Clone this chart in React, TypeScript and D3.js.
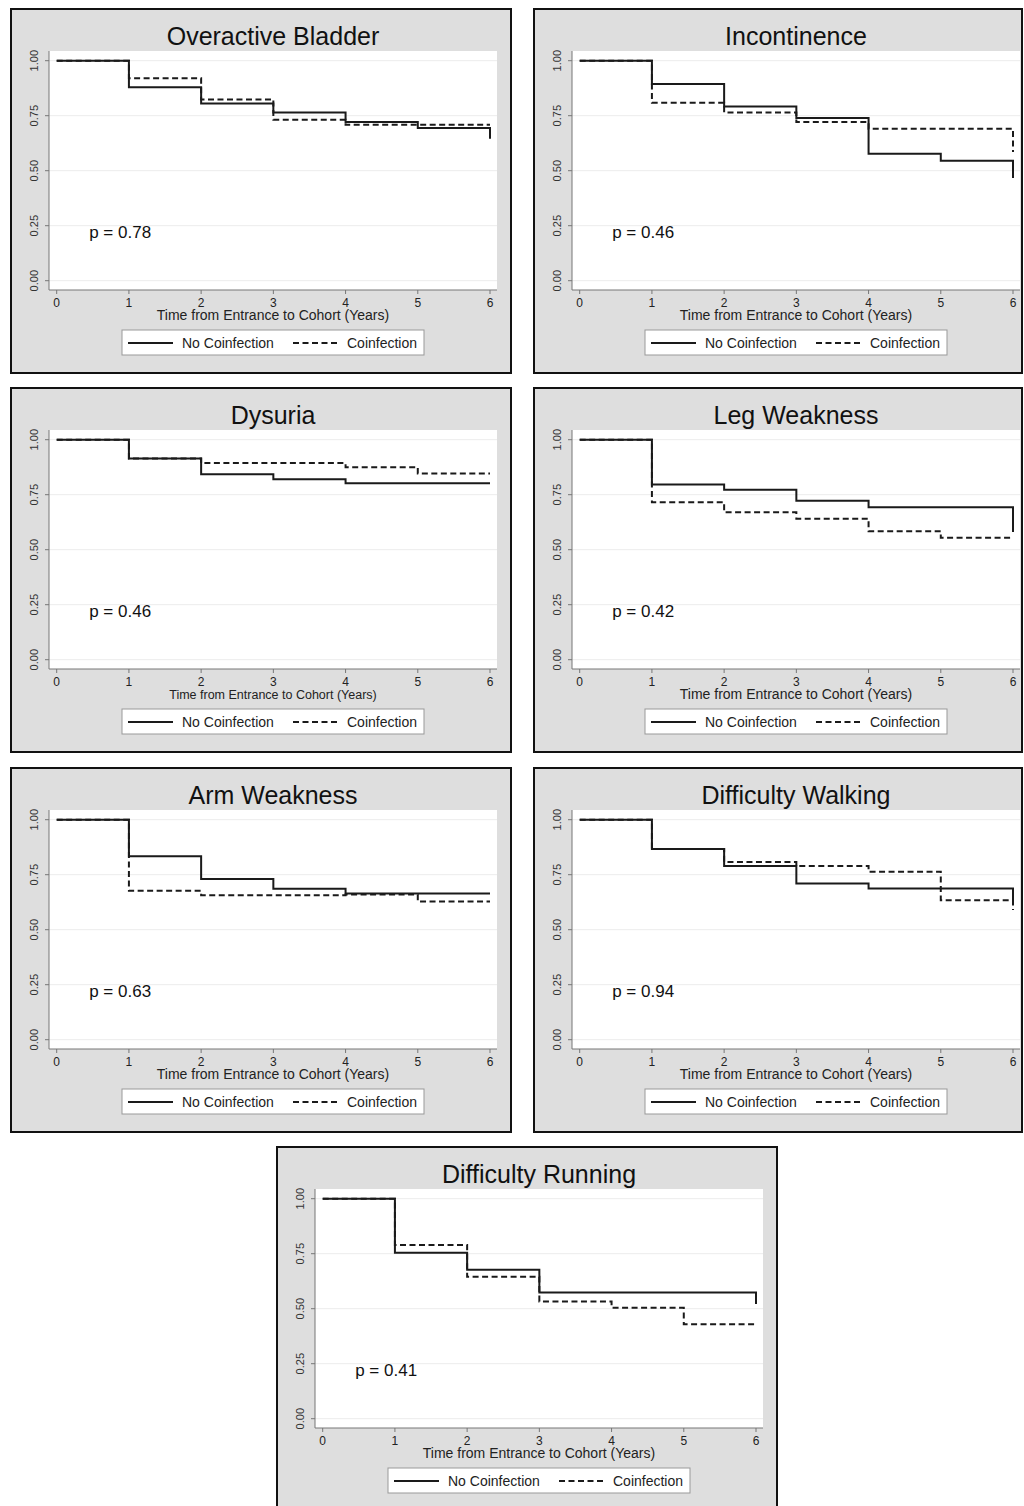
import * as d3 from "d3";

// survival estimates at years 0..6 (last value = drop at end of follow-up)
const years = [0, 1, 2, 3, 4, 5, 6];
const yTicks = [0, 0.25, 0.5, 0.75, 1];
const yTickLabels = ["0.00", "0.25", "0.50", "0.75", "1.00"];

const titles = [
  "Overactive Bladder",
  "Incontinence",
  "Dysuria",
  "Leg Weakness",
  "Arm Weakness",
  "Difficulty Walking",
  "Difficulty Running",
];
const pValues = ["0.78", "0.46", "0.46", "0.42", "0.63", "0.94", "0.41"];

const bladderNo = [1.0, 0.879, 0.806, 0.765, 0.721, 0.694, 0.645];
const bladderCo = [1.0, 0.92, 0.824, 0.732, 0.709, 0.709, 0.709];
const incontNo = [1.0, 0.894, 0.792, 0.739, 0.577, 0.545, 0.467];
const incontCo = [1.0, 0.809, 0.765, 0.721, 0.691, 0.691, 0.585];
const dysuriaNo = [1.0, 0.915, 0.843, 0.82, 0.802, 0.802, 0.802];
const dysuriaCo = [1.0, 0.915, 0.894, 0.894, 0.875, 0.846, 0.846];
const legNo = [1.0, 0.796, 0.772, 0.723, 0.693, 0.693, 0.581];
const legCo = [1.0, 0.716, 0.67, 0.641, 0.584, 0.554, 0.554];
const armNo = [1.0, 0.834, 0.73, 0.686, 0.665, 0.665, 0.665];
const armCo = [1.0, 0.677, 0.657, 0.657, 0.66, 0.628, 0.628];
const walkNo = [1.0, 0.867, 0.79, 0.71, 0.687, 0.687, 0.62];
const walkCo = [1.0, 0.867, 0.808, 0.789, 0.763, 0.634, 0.589];
const runNo = [1.0, 0.754, 0.677, 0.574, 0.574, 0.574, 0.521];
const runCo = [1.0, 0.79, 0.645, 0.533, 0.504, 0.429, 0.429];

const noCoinfection = [bladderNo, incontNo, dysuriaNo, legNo, armNo, walkNo, runNo];
const coinfection = [bladderCo, incontCo, dysuriaCo, legCo, armCo, walkCo, runCo];

const panelX = [10, 533, 10, 533, 10, 533, 276];
const panelY = [8, 8, 387, 387, 767, 767, 1146];
const panelW = [502, 490, 502, 490, 502, 490, 502];
const axisTitleSize = [14, 14, 12.5, 14, 14, 14, 14];

const font = "'Liberation Sans', Arial, Helvetica, sans-serif";
const ink = "#1a1a1a";

const x = d3.scaleLinear().domain([0, 6]).range([46.7, 480]);
const y = d3.scaleLinear().domain([0, 1]).range([272.7, 52.7]);

const stepLine = d3
  .line<number>()
  .x((d, i) => x(years[i]))
  .y(d => y(d))
  .curve(d3.curveStepAfter);

function Panel({ i }: { i: number }) {
  const w = panelW[i];
  return (
    <g transform={`translate(${panelX[i]},${panelY[i]})`}>
      <rect x={1} y={1} width={w - 2} height={364} fill="#dedede" stroke="#111" strokeWidth={2} />
      <text x={263} y={37} textAnchor="middle" fontSize={25} fill="#111" fontFamily={font}>
        {titles[i]}
      </text>
      <rect x={39} y={43} width={448} height={239} fill="#fff" />
      {yTicks.map(t => (
        <line key={"g" + t} x1={39} x2={487} y1={y(t)} y2={y(t)} stroke="#ececec" strokeWidth={1} />
      ))}
      <line x1={39} x2={39} y1={43} y2={282} stroke="#777" />
      <line x1={39} x2={487} y1={282} y2={282} stroke="#777" />
      {yTicks.map((t, k) => (
        <g key={"y" + t}>
          <line x1={35} x2={39} y1={y(t)} y2={y(t)} stroke="#777" />
          <text
            transform={`translate(25,${y(t)}) rotate(-90)`}
            textAnchor="middle"
            dominantBaseline="middle"
            fontSize={11}
            fill="#333"
            fontFamily={font}
          >
            {yTickLabels[k]}
          </text>
        </g>
      ))}
      {years.map(t => (
        <g key={"x" + t}>
          <line x1={x(t)} x2={x(t)} y1={282} y2={286} stroke="#777" />
          <text x={x(t)} y={299} textAnchor="middle" fontSize={12} fill="#222" fontFamily={font}>
            {t}
          </text>
        </g>
      ))}
      <text x={263} y={312} textAnchor="middle" fontSize={axisTitleSize[i]} fill="#222" fontFamily={font}>
        Time from Entrance to Cohort (Years)
      </text>
      <path d={stepLine(coinfection[i]) || ""} fill="none" stroke={ink} strokeWidth={2} strokeDasharray="6,3.5" />
      <path d={stepLine(noCoinfection[i]) || ""} fill="none" stroke={ink} strokeWidth={2} />
      <text x={x(0.45)} y={y(0.195)} fontSize={17} fill="#111" fontFamily={font}>
        {"p = " + pValues[i]}
      </text>
      <rect x={112} y={322} width={302} height={25} fill="#fff" stroke="#999" strokeWidth={1} />
      <line x1={118} x2={163} y1={335} y2={335} stroke={ink} strokeWidth={2} />
      <text x={172} y={340} fontSize={14} fill="#222" fontFamily={font}>
        No Coinfection
      </text>
      <line x1={283} x2={330} y1={335} y2={335} stroke={ink} strokeWidth={2} strokeDasharray="6,3.5" />
      <text x={337} y={340} fontSize={14} fill="#222" fontFamily={font}>
        Coinfection
      </text>
    </g>
  );
}

export default function App() {
  return (
    <div>
      <style>{"body{margin:0}"}</style>
      <svg width={1024} height={1506} style={{ display: "block", background: "#fff" }}>
        {titles.map((t, i) => (
          <Panel key={t} i={i} />
        ))}
      </svg>
    </div>
  );
}
